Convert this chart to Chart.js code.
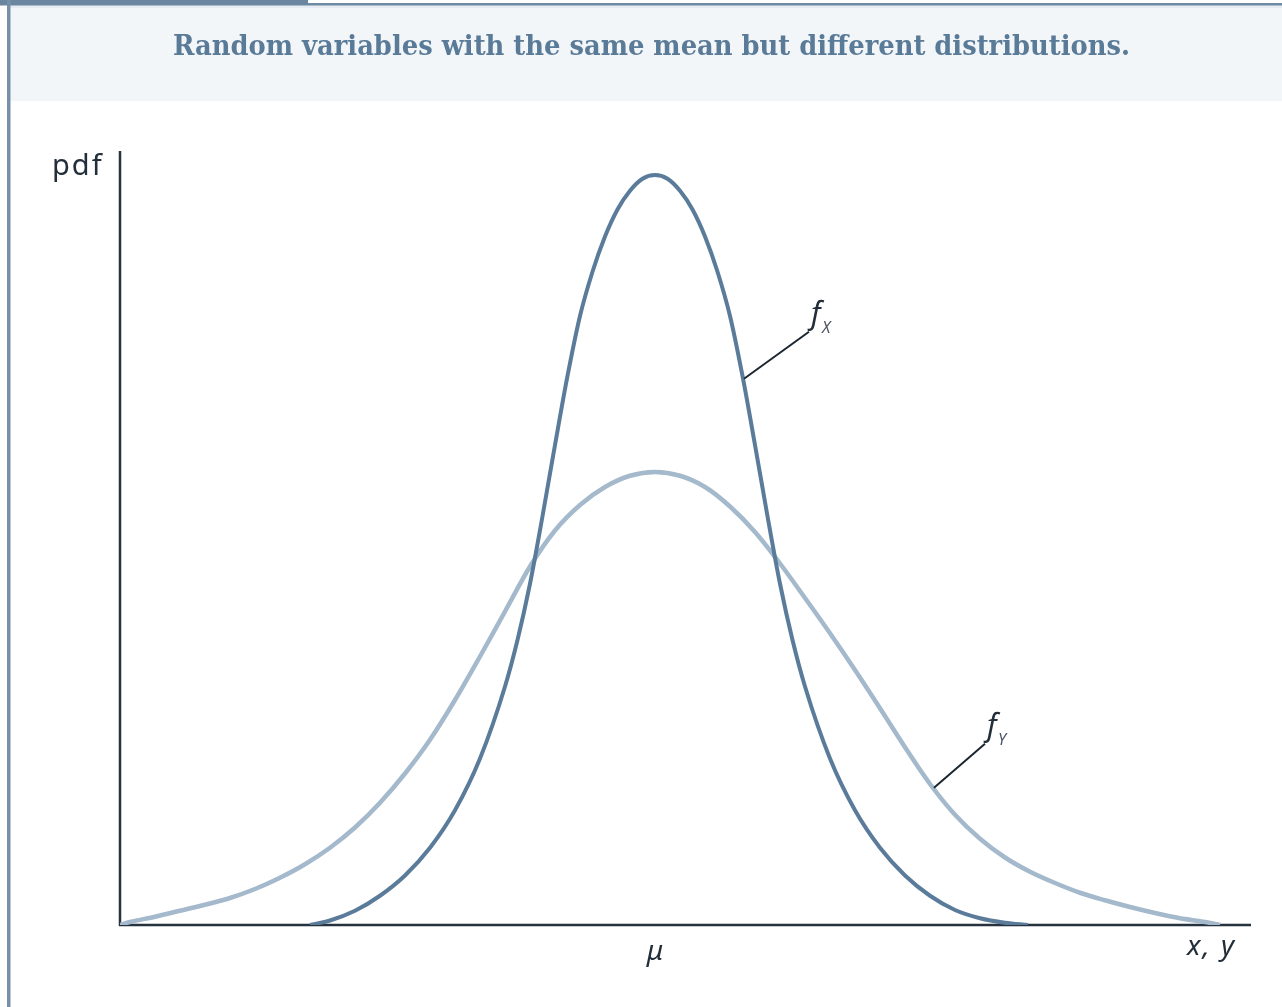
<!DOCTYPE html>
<html>
<head>
<meta charset="utf-8">
<title>Random variables with the same mean but different distributions.</title>
<script src="https://cdn.jsdelivr.net/npm/chart.js@4.4.1/dist/chart.umd.min.js"></script>
<style>
  html, body { margin: 0; padding: 0; background: #ffffff; }
  #wrap { position: relative; width: 1282px; height: 1007px; }
</style>
</head>
<body>
<div id="wrap"><canvas id="pdfChart" width="1282" height="1007"></canvas></div>
<script>
// distance from the mean (x axis) and density height, narrow curve f_X
const xValsX = [-3.45, -3.25, -3.0, -2.75, -2.5, -2.25, -2.0, -1.75, -1.5, -1.375, -1.25, -1.125, -1.0, -0.875, -0.75,
  -0.625, -0.5, -0.375, -0.25, -0.125, 0, 0.125, 0.25, 0.375, 0.5, 0.625, 0.75, 0.875, 1.0, 1.125, 1.25, 1.375,
  1.5, 1.75, 2.0, 2.25, 2.5, 2.75, 3.0, 3.25, 3.5, 3.73];
const pdfX = [0, 0.006, 0.019, 0.039, 0.066, 0.103, 0.153, 0.222, 0.318, 0.380, 0.455, 0.545, 0.640, 0.732, 0.812,
  0.871, 0.918, 0.954, 0.979, 0.995, 1.0, 0.995, 0.979, 0.954, 0.918, 0.871, 0.812, 0.732, 0.640, 0.545, 0.455, 0.380,
  0.318, 0.222, 0.153, 0.103, 0.066, 0.039, 0.020, 0.009, 0.003, 0];

// wide curve f_Y
const xValsY = [-5.35, -5.25, -5.0, -4.75, -4.5, -4.25, -4.0, -3.75, -3.5, -3.25, -3.0, -2.75, -2.5, -2.25,
  -2.0, -1.75, -1.5, -1.25, -1.0, -0.75, -0.5, -0.25, 0, 0.25, 0.5, 0.75, 1.0, 1.25, 1.5, 1.75, 2.0,
  2.25, 2.5, 2.75, 3.0, 3.25, 3.5, 3.75, 4.0, 4.25, 4.5, 4.75, 5.0, 5.25, 5.5, 5.65];
const pdfY = [0, 0.004, 0.011, 0.019, 0.027, 0.036, 0.048, 0.063, 0.081, 0.103, 0.130, 0.163, 0.202, 0.247,
  0.300, 0.358, 0.418, 0.478, 0.526, 0.560, 0.584, 0.599, 0.604, 0.599, 0.584, 0.558, 0.524, 0.482, 0.436, 0.389, 0.340,
  0.289, 0.237, 0.188, 0.147, 0.115, 0.090, 0.071, 0.056, 0.043, 0.033, 0.024, 0.016, 0.009, 0.004, 0];

const titleText = "Random variables with the same mean but different distributions.";
const yAxisLabel = "pdf";
const xAxisLabel = "x, y";
const meanLabel = "\u03bc";
// curve names with the point each leader line starts from
const curveLabels = [
  { data: "X", at: 0.88, dx: 65, dy: -47 },
  { data: "Y", at: 2.78, dx: 51, dy: -44 }
];

const darkBlue = "#5a7b99";
const lightBlue = "#a4b9cb";
const inkColor = "#222e3a";

function toPoints(xs, ys) {
  return xs.map((x, i) => ({ x: x, y: ys[i] }));
}

function heightAt(xs, ys, v) {
  for (let i = 0; i < xs.length - 1; i++) {
    if (v >= xs[i] && v <= xs[i + 1]) {
      const t = (v - xs[i]) / (xs[i + 1] - xs[i]);
      return ys[i] + t * (ys[i + 1] - ys[i]);
    }
  }
  return 0;
}

// background frame, title band, axes and labels
const framePlugin = {
  id: "frame",
  beforeDraw(chart) {
    const ctx = chart.ctx;
    ctx.save();
    ctx.fillStyle = "#ffffff";
    ctx.fillRect(0, 0, chart.width, chart.height);
    ctx.fillStyle = "#f3f6f9";
    ctx.fillRect(10, 8, chart.width - 10, 93);
    ctx.fillStyle = "#e6ecf1";
    ctx.fillRect(10, 5, chart.width - 10, 3);
    ctx.fillStyle = "#6f8ba4";
    ctx.fillRect(0, 3, chart.width, 2.5);
    ctx.fillStyle = "#6a86a0";
    ctx.fillRect(0, 0, 308, 5);
    ctx.fillStyle = "#7690a8";
    ctx.fillRect(7, 0, 3.5, chart.height);

    ctx.font = "bold 28px 'DejaVu Serif'";
    ctx.fillStyle = "#5a7b98";
    ctx.textBaseline = "alphabetic";
    const w = ctx.measureText(titleText).width;
    ctx.translate(173, 55);
    ctx.scale(957 / w, 1);
    ctx.fillText(titleText, 0, 0);
    ctx.restore();
  },
  beforeDatasetsDraw(chart) {
    const ctx = chart.ctx;
    const a = chart.chartArea;
    ctx.save();
    ctx.strokeStyle = "#26323e";
    ctx.lineWidth = 2.5;
    ctx.beginPath();
    ctx.moveTo(a.left, a.top + 1);
    ctx.lineTo(a.left, a.bottom + 1);
    ctx.moveTo(a.left - 1, a.bottom);
    ctx.lineTo(a.right + 1, a.bottom);
    ctx.stroke();

    ctx.fillStyle = inkColor;
    ctx.font = "29px 'Noto Sans'";
    ctx.letterSpacing = "2px";
    ctx.textBaseline = "alphabetic";
    ctx.textAlign = "left";
    ctx.fillText(yAxisLabel, 52, 175);
    ctx.letterSpacing = "0px";

    ctx.font = "italic 28px 'Noto Sans'";
    ctx.textAlign = "center";
    ctx.fillText(meanLabel, chart.scales.x.getPixelForValue(0), 960);
    ctx.textAlign = "left";
    ctx.letterSpacing = "2px";
    ctx.fillText(xAxisLabel, 1187, 955);
    ctx.restore();
  },
  afterDatasetsDraw(chart) {
    const ctx = chart.ctx;
    const xs = chart.scales.x;
    const ys = chart.scales.y;
    ctx.save();
    curveLabels.forEach((lab, k) => {
      const yv = k === 0 ? heightAt(xValsX, pdfX, lab.at) : heightAt(xValsY, pdfY, lab.at);
      const px = xs.getPixelForValue(lab.at) + 1;
      const py = ys.getPixelForValue(yv);
      ctx.strokeStyle = "#1c2630";
      ctx.lineWidth = 2;
      ctx.beginPath();
      ctx.moveTo(px, py);
      ctx.lineTo(px + lab.dx, py + lab.dy);
      ctx.stroke();

      ctx.fillStyle = inkColor;
      ctx.font = "italic 30px 'Noto Sans'";
      ctx.textAlign = "left";
      ctx.fillText("f", px + lab.dx + 2, py + lab.dy - 8);
      ctx.font = "italic 16px 'Noto Sans'";
      ctx.fillStyle = "#4a5663";
      ctx.fillText(lab.data, px + lab.dx + 13, py + lab.dy + 1);
    });
    ctx.restore();
  }
};

const ctx = document.getElementById("pdfChart").getContext("2d");
const pdfChart = new Chart(ctx, {
  type: "line",
  data: {
    datasets: [
      {
        label: "fX",
        data: toPoints(xValsX, pdfX),
        borderColor: darkBlue,
        borderWidth: 4,
        pointRadius: 0,
        cubicInterpolationMode: "monotone",
        fill: false
      },
      {
        label: "fY",
        data: toPoints(xValsY, pdfY),
        borderColor: lightBlue,
        borderWidth: 4.5,
        pointRadius: 0,
        cubicInterpolationMode: "monotone",
        fill: false
      }
    ]
  },
  options: {
    responsive: false,
    animation: false,
    devicePixelRatio: 1,
    layout: { padding: { left: 120, top: 150, right: 32, bottom: 82 } },
    plugins: {
      legend: { display: false },
      title: { display: false },
      tooltip: { enabled: false }
    },
    scales: {
      x: { type: "linear", min: -5.35, max: 5.95, display: false },
      y: { type: "linear", min: 0, max: 1.0333, display: false }
    }
  },
  plugins: [framePlugin]
});
</script>
</body>
</html>
